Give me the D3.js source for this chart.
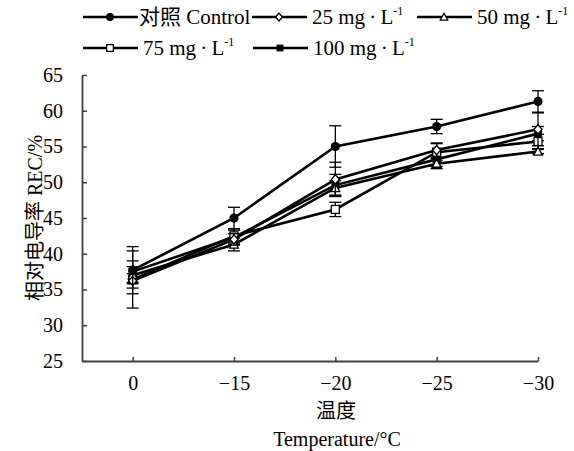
<!DOCTYPE html>
<html>
<head>
<meta charset="utf-8">
<script src="https://cdn.jsdelivr.net/npm/d3@7"></script>
<style>
  body { margin: 0; background: #fff; }
  svg text { font-family: "Liberation Serif", "Noto Sans CJK SC", serif; fill: #000; }
</style>
</head>
<body>
<div id="chart"></div>
<script>
// categories and values
var temps = ["0", "\u221215", "\u221220", "\u221225", "\u221230"];
var yTicks = [25, 30, 35, 40, 45, 50, 55, 60, 65];

var control    = [37.7, 45.0, 55.0, 57.8, 61.3];
var controlErr = [3.3, 1.5, 2.9, 1.0, 1.5];
var mg25       = [36.2, 42.0, 50.4, 54.5, 57.4];
var mg25Err    = [1.0, 0.8, 2.4, 1.0, 2.3];
var mg50       = [37.0, 41.3, 49.2, 52.6, 54.3];
var mg50Err    = [1.2, 0.9, 1.0, 0.7, 0.3];
var mg75       = [36.4, 42.5, 46.2, 54.2, 55.7];
var mg75Err    = [4.0, 1.0, 1.0, 1.2, 1.0];
var mg100      = [37.5, 42.3, 49.6, 53.2, 56.8];
var mg100Err   = [1.5, 1.0, 1.5, 1.0, 1.0];

var seriesNames = ["对照 Control", "25", "50", "75", "100"];

(function() {
    var width = 574, height = 451;
    var svg = d3.select("#chart").append("svg")
        .attr("width", width)
        .attr("height", height);

    var x = d3.scaleLinear().domain([-0.5, temps.length - 1]).range([82, 538]);
    var y = d3.scaleLinear().domain([25, 65]).range([361, 75]);

    var series = [
        { name: seriesNames[4], values: mg100, err: mg100Err, shape: "squareFilled" },
        { name: seriesNames[3], values: mg75,  err: mg75Err,  shape: "square" },
        { name: seriesNames[2], values: mg50,  err: mg50Err,  shape: "triangle" },
        { name: seriesNames[1], values: mg25,  err: mg25Err,  shape: "diamond" },
        { name: seriesNames[0], values: control, err: controlErr, shape: "circle" }
    ];

    // k scales the marker (legend markers are smaller)
    function drawMarker(g, shape, cx, cy, k) {
        var h = 4 * k;
        if (shape == "circle") {
            g.append("circle").attr("cx", cx).attr("cy", cy).attr("r", 4.6 * k)
                .attr("fill", "#000");
        } else if (shape == "diamond") {
            g.append("path")
                .attr("d", "M" + cx + "," + (cy - h * 1.15) + "L" + (cx + h) + "," + cy +
                      "L" + cx + "," + (cy + h * 1.15) + "L" + (cx - h) + "," + cy + "Z")
                .attr("fill", "#fff").attr("stroke", "#000").attr("stroke-width", 1.3);
        } else if (shape == "triangle") {
            g.append("path")
                .attr("d", "M" + cx + "," + (cy - h * 1.1) + "L" + (cx + h * 1.1) + "," + (cy + h * 0.9) +
                      "L" + (cx - h * 1.1) + "," + (cy + h * 0.9) + "Z")
                .attr("fill", "#fff").attr("stroke", "#000").attr("stroke-width", 1.3);
        } else if (shape == "square") {
            g.append("rect").attr("x", cx - h).attr("y", cy - h)
                .attr("width", 2 * h).attr("height", 2 * h)
                .attr("fill", "#fff").attr("stroke", "#000").attr("stroke-width", 1.3);
        } else {
            g.append("rect").attr("x", cx - h).attr("y", cy - h)
                .attr("width", 2 * h).attr("height", 2 * h)
                .attr("fill", "#000");
        }
    }

    // axes
    var xAxis = d3.axisBottom(x)
        .tickValues(d3.range(temps.length))
        .tickFormat(function(i) { return temps[i]; })
        .tickSizeInner(-4).tickSizeOuter(0).tickPadding(15);
    var yAxis = d3.axisLeft(y)
        .tickValues(yTicks)
        .tickSizeInner(-5).tickSizeOuter(0).tickPadding(19);

    var gX = svg.append("g").attr("transform", "translate(0,361)").call(xAxis);
    var gY = svg.append("g").attr("transform", "translate(82,0)").call(yAxis);
    [gX, gY].forEach(function(g) {
        g.select(".domain").attr("stroke", "#404040").attr("stroke-width", 1.8);
        g.selectAll(".tick line").attr("stroke", "#404040").attr("stroke-width", 1.5);
        g.selectAll(".tick text").attr("font-size", 20)
            .attr("font-family", "Liberation Serif").attr("fill", "#000");
    });

    // axis titles
    svg.append("text")
        .attr("transform", "translate(42,218) rotate(-90)")
        .attr("text-anchor", "middle")
        .attr("font-size", 20)
        .text("相对电导率 REC/%");
    svg.append("text")
        .attr("x", 336).attr("y", 418)
        .attr("text-anchor", "middle")
        .attr("font-size", 20)
        .text("温度");
    svg.append("text")
        .attr("x", 337).attr("y", 446)
        .attr("text-anchor", "middle")
        .attr("font-size", 20)
        .text("Temperature/\u00b0C");

    var line = d3.line()
        .x(function(d, i) { return x(i); })
        .y(function(d) { return y(d); });

    var plot = svg.append("g");
    series.forEach(function(s) {
        var g = plot.append("g");
        s.values.forEach(function(v, i) {
            var cx = x(i);
            var top = y(v + s.err[i]), bot = y(v - s.err[i]);
            g.append("line").attr("x1", cx).attr("x2", cx).attr("y1", top).attr("y2", bot)
                .attr("stroke", "#000").attr("stroke-width", 1.3);
            [top, bot].forEach(function(yy) {
                g.append("line").attr("x1", cx - 6).attr("x2", cx + 6).attr("y1", yy).attr("y2", yy)
                    .attr("stroke", "#000").attr("stroke-width", 1.3);
            });
        });
        g.append("path").datum(s.values)
            .attr("d", line)
            .attr("fill", "none")
            .attr("stroke", "#000")
            .attr("stroke-width", 2.6);
        s.values.forEach(function(v, i) {
            drawMarker(g, s.shape, x(i), y(v), 1);
        });
    });

    // legend
    var legendItems = [
        { s: series[4], x: 83,  y: 17 },
        { s: series[3], x: 252, y: 17 },
        { s: series[2], x: 417, y: 17 },
        { s: series[1], x: 83,  y: 48 },
        { s: series[0], x: 253, y: 48 }
    ];
    var legend = svg.append("g");
    legendItems.forEach(function(it) {
        var g = legend.append("g");
        g.append("line").attr("x1", it.x).attr("x2", it.x + 55)
            .attr("y1", it.y).attr("y2", it.y)
            .attr("stroke", "#000").attr("stroke-width", 2.6);
        drawMarker(g, it.s.shape, it.x + 27, it.y, 0.85);
        var t = g.append("text")
            .attr("x", it.x + (it.s.shape == "circle" ? 56 : 60))
            .attr("y", it.y + 7)
            .attr("font-size", 21);
        if (it.s.shape == "circle") {
            t.text(it.s.name);
        } else {
            t.append("tspan").text(it.s.name + " mg\u2009\u00b7\u2009L");
            t.append("tspan").attr("font-size", 12).attr("dy", -9).text("-1");
        }
    });
})();
</script>
</body>
</html>
